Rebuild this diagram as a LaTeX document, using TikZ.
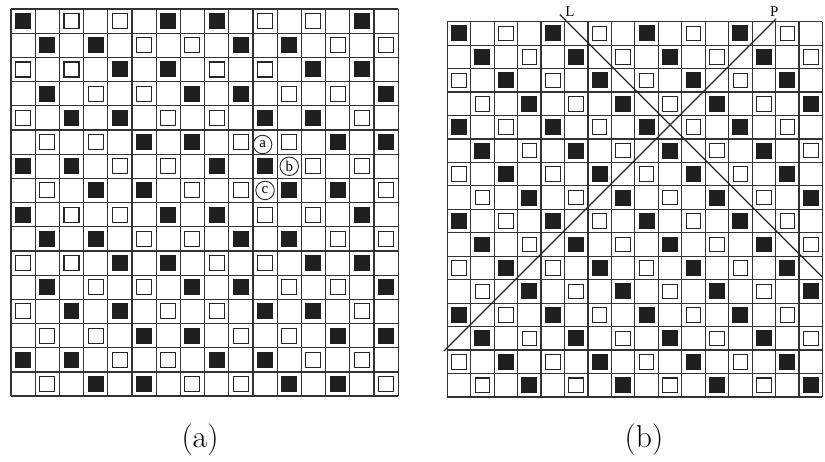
\documentclass[tikz,border=0pt]{standalone}
\usepackage{fontspec}
\newfontfamily\markfont{Liberation Serif}
\usetikzlibrary{positioning}

\tikzset{
  gridline/.style={draw=black!80, line width=0.7pt},
  full/.style={fill=black!88},
  hollow/.style={draw=black!85, fill=white, line width=0.6pt},
  cutline/.style={draw=black!85, line width=0.7pt},
}

\begin{document}
\begin{tikzpicture}[x=0.02cm,y=-0.02cm,
    ringlabel/.style={circle,draw=black!85,line width=0.5pt,fill=white,inner sep=0pt,minimum size=0.37cm,font=\markfont\fontsize{8.5}{9}\selectfont},
    linename/.style={inner sep=0pt,font=\markfont\fontsize{8.5}{9}\selectfont},
    caption/.style={font=\fontsize{18}{20}\selectfont}]

  \useasboundingbox (0,0) rectangle (825,462);

  % left board
  \begin{scope}[xshift=0.22cm,yshift=-0.18cm,x=0.484cm,y=-0.484cm]
    \foreach \k in {0,...,16} {
      \draw[gridline] (\k,0) -- (\k,16);
      \draw[gridline] (0,\k) -- (16,\k);
    }
    \foreach \dx in {0,8} \foreach \dy in {0,8} {
      \foreach \c/\r in {0/0,6/0,1/1,3/1,4/2,6/2,1/3,7/3,2/4,4/4,5/5,7/5,0/6,2/6,3/7,5/7}
        \fill[full] (\c+\dx+0.17,\r+\dy+0.17) rectangle +(0.66,0.66);
      \foreach \c/\r in {2/0,4/0,5/1,7/1,0/2,2/2,3/3,5/3,0/4,6/4,1/5,3/5,4/6,6/6,1/7,7/7}
        \draw[hollow] (\c+\dx+0.19,\r+\dy+0.19) rectangle +(0.62,0.62);
    }
    \node[ringlabel] (ra) at (10.4,5.6) {a};
    \node[ringlabel] (rb) at (11.5,6.5) {b};
    \node[ringlabel] (rc) at (10.5,7.5) {c};
  \end{scope}

  % right board
  \begin{scope}[xshift=8.946cm,yshift=-0.434cm,x=0.4692cm,y=-0.4692cm]
    \foreach \k in {0,...,16} {
      \draw[gridline] (\k,0) -- (\k,16);
      \draw[gridline] (0,\k) -- (16,\k);
    }
    \foreach \dx in {0,4,8,12} \foreach \dy in {0,4,8,12} {
      \foreach \c/\r in {0/0,1/1,2/2,3/3}
        \fill[full] (\c+\dx+0.16,\r+\dy+0.16) rectangle +(0.68,0.68);
      \foreach \c/\r in {2/0,3/1,0/2,1/3}
        \draw[hollow] (\c+\dx+0.19,\r+\dy+0.19) rectangle +(0.62,0.62);
    }
    \coordinate (Ltop) at (4.8,-0.3);
    \coordinate (Lend) at (16,10.9);
    \coordinate (Ptop) at (14.02,-0.12);
    \coordinate (Pend) at (-0.14,14.04);
    \draw[cutline] (Ltop) -- (Lend);
    \draw[cutline] (Ptop) -- (Pend);
    \node[linename,right=3pt of Ltop,yshift=1.5pt] (Lname) {L};
    \node[linename,above=1pt of Ptop,xshift=-1pt] (Pname) {P};
  \end{scope}

  \node[caption] (capa) at (200,440) {(a)};
  \node[caption] (capb) at (644,440) {(b)};
\end{tikzpicture}
\end{document}
